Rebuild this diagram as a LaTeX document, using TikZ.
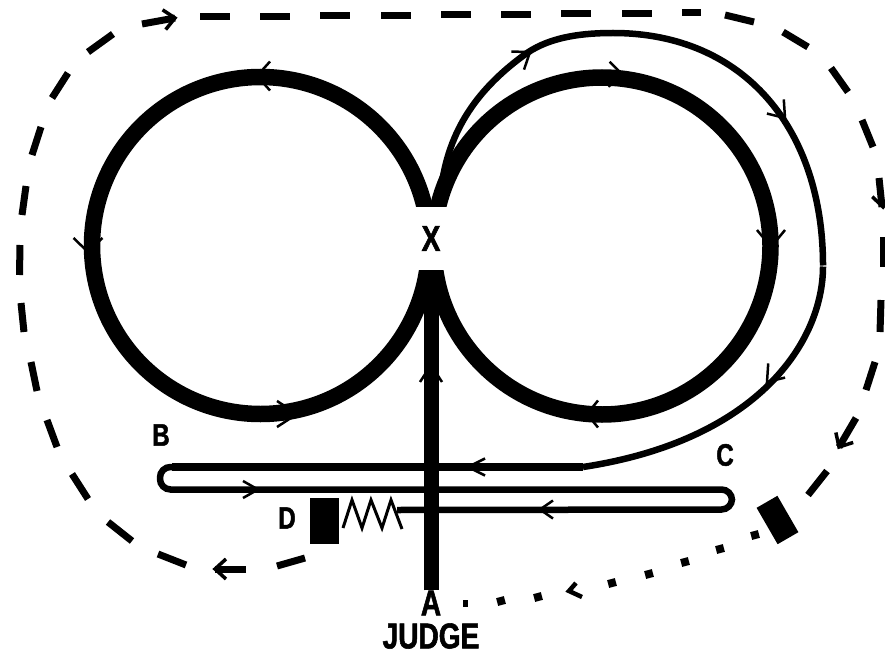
\documentclass[tikz,border=0pt]{standalone}
\usepackage{fontspec}
\newfontfamily\narrowfont[FakeStretch=0.78,BoldFeatures={FakeBold=1.5}]{Liberation Sans}
\usepackage{tikz}

\begin{document}
\begin{tikzpicture}[
  x=1pt,y=-1pt,
  trackline/.style={draw,line width=16.5pt},
  loopline/.style={draw,line width=6.5pt},
  dashline/.style={draw,line width=7pt},
  tip/.style={draw,line width=2.5pt},
  tag/.style={inner sep=0pt,font=\narrowfont\bfseries\fontsize{31}{31}\selectfont},
  bigtag/.style={inner sep=0pt,font=\narrowfont\bfseries\fontsize{36}{36}\selectfont},
  blockmark/.style={fill=black,inner sep=0pt}
]
\useasboundingbox (0,0) rectangle (885,655);
\draw[trackline] (260.5,245.5) circle (168.5);
\draw[trackline] (602,246) circle (168.5);
% gap round the crossing
\node[bigtag,fill=white,minimum width=42pt,minimum height=63pt] (x) at (431,238.5) {X};
\node[bigtag] (a) at (431,603) {A};
\node[bigtag] (judge) at (431,636) {JUDGE};
\node[tag] (b) at (161,435) {B};
\node[tag] (c) at (725,455) {C};
\node[tag] (d) at (287,518) {D};
\node[blockmark,minimum width=29pt,minimum height=46pt] (start) at (324.5,521) {};
\node[blockmark,minimum width=24pt,minimum height=42pt,rotate=30] (finish) at (777.5,520) {};
\coordinate (springend) at (397,510);
% inner course
\draw[loopline] (441,190) .. controls (448,130) and (478,88) .. (527,53)
  .. controls (552,36) and (585,33) .. (613,33)
  .. controls (745,33) and (823,130) .. (823,265.5);
\draw[loopline] (823,266.5) .. controls (823,340) and (760,440) .. (583,467);
\draw[loopline,line width=7.5pt] (583,467) -- (172,467);
\draw[loopline,rounded corners=10.5pt] (172,467) -- (160,467) -- (160,489.5) -- (732,489.5) -- (732,509.5) -- (springend);
\draw[line width=3pt] (343,528) -- (352,500) -- (362,528) -- (371,500) -- (382,528) -- (391,500) -- (402,529);
\draw[line width=15pt] (a.north) -- (x.south);
% outer dashes
\foreach \xa/\ya/\xb/\yb in {142/24/175/18,88/52/113/34,52/98/68/73,32/155/41/127,22/215/26/186,
  19.5/275/20/245,21/303/24/332,31/362/37/391,47/420/57/447,72/474/88/499,108/522/132/541,
  158/554/186/565,246/569/215/569,277/566/305/558,200/17/230/17,260/17/290/17,320/16/350/16,
  381/16/411/16,441/15/471/15,501/15/531/15,561/14/591/14,622/14/652/14,682/13/701/13,
  725/15/754/22,783/32/808/47,831/68/848/92,862/120/873/147,879/178/882/207,883/237/883/267,
  881/300/880/332,875/362/866/390,856/418/839/447,827/471/808/495}
  \draw[dashline] (\xa,\ya) -- (\xb,\yb);
% dotted leg
\foreach \dx/\dy in {755/535,720/549,685/562,649/574,612/583,538/597,501/601}
  \fill[shift={(\dx,\dy)},rotate=15] (-4,-4) rectangle (4,4);
\fill (462.5,599.5) rectangle (467.5,606.5);
% arrowheads: tip x/y, direction, length, half width
\foreach \tx/\ty/\ang/\len/\wid in {257/76/180/13/14.5,88/252/-90/14/14.5,297/414/0/20/13,
  623/75/-3/14/12.5,771/247/-90/17/14,587/414/180/11/13.5,431/365/90/17/11,
  530/52/35/15/11,785/118/-50/15/11,767/382/-130/15/11,
  468/467/180/17/8.5,258/489.5/0/15/8.5,540/509.5/180/13/9}
  \draw[tip,shift={(\tx,\ty)},rotate=\ang] (-\len,-\wid) -- (0,0) -- (-\len,\wid);
\foreach \tx/\ty/\ang in {175/18/9,215/569/180,883/207/-86,839/447/-120}
  \draw[tip,line width=3.5pt,shift={(\tx,\ty)},rotate=\ang] (-11,-10) -- (0,0) -- (-11,10);
\draw[tip,line width=4.5pt] (576,583) -- (569,591) -- (582,597);
\end{tikzpicture}
\end{document}
